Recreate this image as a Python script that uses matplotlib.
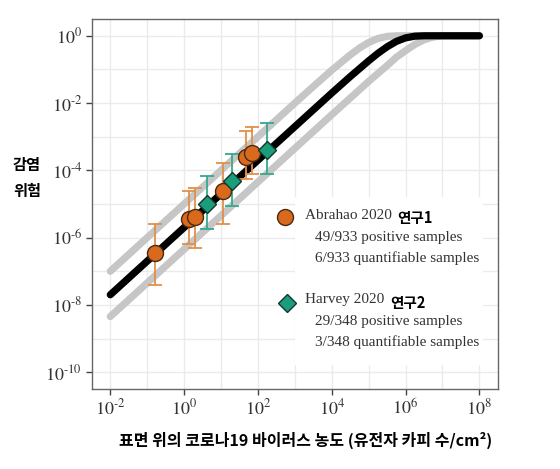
import math
import matplotlib
matplotlib.use("Agg")
import matplotlib.pyplot as plt
import matplotlib.ticker as mticker
from matplotlib.patches import Rectangle

plt.rcParams['mathtext.fontset'] = 'stix'

# dose-response curves (concentration, infection risk)
curve_x = [1e-2, 1e0, 1e2, 1e4, 10**4.5, 1e5, 10**5.25, 10**5.5, 10**5.75, 1e6, 10**6.25, 10**6.5, 1e7, 1e8]
curve_mid = [2e-8, 2e-6, 2e-4, 0.0198, 0.061, 0.18, 0.30, 0.47, 0.68, 0.865, 0.972, 0.998, 1.0, 1.0]

upper_x = [1e-2, 1e0, 1e2, 1e3, 10**3.5, 1e4, 10**4.25, 10**4.5, 10**4.75, 1e5, 10**5.25, 10**5.5, 10**5.75, 1e6, 1e8]
upper_y = [1e-7, 1e-5, 1e-3, 1e-2, 0.031, 0.095, 0.16, 0.27, 0.43, 0.63, 0.83, 0.96, 0.996, 1.0, 1.0]

lower_x = [1e-2, 1e0, 1e2, 1e4, 1e5, 10**5.5, 10**5.75, 1e6, 10**6.25, 10**6.5, 10**6.75, 1e7, 10**7.25, 1e8]
lower_y = [4.5e-9, 4.5e-7, 4.5e-5, 4.5e-3, 0.044, 0.13, 0.23, 0.36, 0.55, 0.76, 0.92, 0.99, 1.0, 1.0]

# Abrahao 2020 (study 1)
abr_x = [0.166, 1.32, 2.0, 11.2, 49, 67.6]
abr_y = [3.5e-7, 3.5e-6, 4.2e-6, 2.4e-5, 2.45e-4, 3.2e-4]
abr_lo = [3.9e-8, 6.5e-7, 4.8e-7, 2.6e-6, 5.6e-5, 7.9e-5]
abr_hi = [2.5e-6, 2.4e-5, 2.9e-5, 1.66e-4, 1.45e-3, 2.0e-3]

# Harvey 2020 (study 2)
har_x = [4.1, 19.5, 174]
har_y = [9.8e-6, 4.7e-5, 4.1e-4]
har_lo = [1.86e-6, 8.5e-6, 7.9e-5]
har_hi = [6.6e-5, 3.1e-4, 2.6e-3]

x_ticks = [1e-2, 1e0, 1e2, 1e4, 1e6, 1e8]
y_ticks = [1e0, 1e-2, 1e-4, 1e-6, 1e-8, 1e-10]

orange = '#d9691c'
orange_bar = '#e0904a'
teal = '#1b9c7a'
teal_bar = '#35a98c'
korean = ['Noto Sans CJK KR', 'DejaVu Sans']
serif = 'Liberation Serif'


def power_label(v, pos):
    e = int(round(math.log10(v)))
    if e < 0:
        return r'$10^{\text{-}%d}$' % (-e)
    return r'$10^{%d}$' % e


fig = plt.figure(figsize=(5.6, 4.69), dpi=100)
ax = fig.add_axes([0.164, 0.1706, 0.725, 0.789])
ax.set_xscale('log')
ax.set_yscale('log')
ax.set_xlim(10**-2.5, 10**8.5)
ax.set_ylim(10**-10.5, 10**0.5)

# grid every decade, labels every second decade
ax.xaxis.set_major_locator(mticker.FixedLocator(x_ticks))
ax.yaxis.set_major_locator(mticker.FixedLocator(y_ticks))
ax.xaxis.set_minor_locator(mticker.FixedLocator([10.0**e for e in range(-1, 8, 2)]))
ax.yaxis.set_minor_locator(mticker.FixedLocator([10.0**e for e in range(-9, 0, 2)]))
ax.xaxis.set_minor_formatter(mticker.NullFormatter())
ax.yaxis.set_minor_formatter(mticker.NullFormatter())
ax.xaxis.set_major_formatter(mticker.FuncFormatter(power_label))
ax.yaxis.set_major_formatter(mticker.FuncFormatter(power_label))
ax.grid(True, which='both', color='#ebebeb', linewidth=1.0)
ax.tick_params(which='minor', length=0)
ax.set_axisbelow(True)
ax.tick_params(which='major', length=4, width=1.0, color='#444444',
               labelsize=13, labelcolor='#333333', pad=3)

for s in ax.spines.values():
    s.set_color('#666666')
    s.set_linewidth(1.0)

# curves
ax.plot(upper_x, upper_y, color='#c6c6c6', lw=5.2, solid_capstyle='round', zorder=2)
ax.plot(lower_x, lower_y, color='#c6c6c6', lw=5.2, solid_capstyle='round', zorder=2)
ax.plot(curve_x, curve_mid, color='black', lw=5.2, solid_capstyle='round', zorder=3)

# error bars and points
ax.errorbar(abr_x, abr_y,
            yerr=[[y - l for y, l in zip(abr_y, abr_lo)], [h - y for y, h in zip(abr_y, abr_hi)]],
            fmt='none', ecolor=orange_bar, elinewidth=1.3, capsize=5, capthick=1.3, zorder=4)
ax.errorbar(har_x, har_y,
            yerr=[[y - l for y, l in zip(har_y, har_lo)], [h - y for y, h in zip(har_y, har_hi)]],
            fmt='none', ecolor=teal_bar, elinewidth=1.3, capsize=5, capthick=1.3, zorder=4)
ax.plot(abr_x, abr_y, 'o', ms=11.5, mfc=orange, mec='#4a2a10', mew=1.0, zorder=5)
ax.plot(har_x, har_y, 'D', ms=9.5, mfc=teal, mec='#10382c', mew=1.0, zorder=5)

# legend box
ax.add_patch(Rectangle((0.5, 0.065), 0.463, 0.454, transform=ax.transAxes,
                       facecolor='white', edgecolor='none', zorder=1.5))
ax.plot([0.475], [0.4657], 'o', ms=11.5, mfc=orange, mec='#4a2a10', mew=1.0,
        transform=ax.transAxes, clip_on=False, zorder=6)
ax.plot([0.480], [0.2324], 'D', ms=9.5, mfc=teal, mec='#10382c', mew=1.0,
        transform=ax.transAxes, clip_on=False, zorder=6)

tc = '#333333'
ax.text(0.5246, 0.468, 'Abrahao 2020', transform=ax.transAxes, family=serif,
        fontsize=11, color=tc, va='center', zorder=6)
ax.text(0.752, 0.462, '연구1', transform=ax.transAxes, family=korean,
        fontsize=10.5, weight='bold', color='black', va='center', zorder=6)
ax.text(0.549, 0.409, '49/933 positive samples', transform=ax.transAxes, family=serif,
        fontsize=11, color=tc, va='center', zorder=6)
ax.text(0.549, 0.355, '6/933 quantifiable samples', transform=ax.transAxes, family=serif,
        fontsize=11, color=tc, va='center', zorder=6)
ax.text(0.5246, 0.2405, 'Harvey 2020', transform=ax.transAxes, family=serif,
        fontsize=11, color=tc, va='center', zorder=6)
ax.text(0.7345, 0.2324, '연구2', transform=ax.transAxes, family=korean,
        fontsize=10.5, weight='bold', color='black', va='center', zorder=6)
ax.text(0.549, 0.182, '29/348 positive samples', transform=ax.transAxes, family=serif,
        fontsize=11, color=tc, va='center', zorder=6)
ax.text(0.549, 0.128, '3/348 quantifiable samples', transform=ax.transAxes, family=serif,
        fontsize=11, color=tc, va='center', zorder=6)

# axis labels
fig.text(27 / 560, 1 - 178 / 469, '감염\n위험', family=korean, fontsize=11, weight='bold',
         ha='center', va='center', linespacing=1.7)
fig.text(306 / 560, 1 - 440 / 469, '표면 위의 코로나19 바이러스 농도 (유전자 카피 수/cm²)',
         family=korean, fontsize=11.5, weight='bold', ha='center', va='center')

fig.savefig('out.png', dpi=100)
